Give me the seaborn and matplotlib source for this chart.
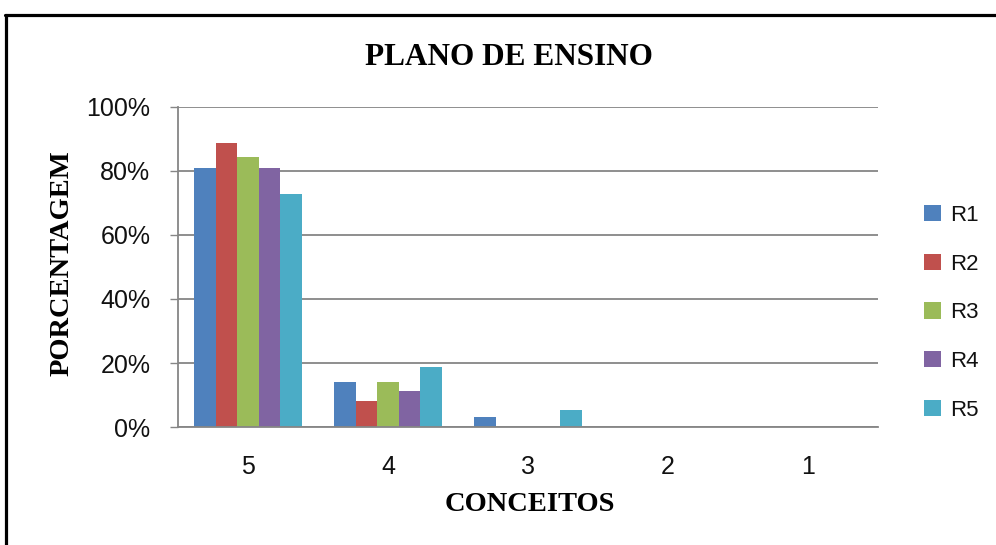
import numpy as np
import pandas as pd
import matplotlib
matplotlib.use("Agg")
import matplotlib.pyplot as plt
from matplotlib.ticker import PercentFormatter
from matplotlib.lines import Line2D
import seaborn as sns

CATEGORIES = ["5", "4", "3", "2", "1"]
SERIES     = ["R1", "R2", "R3", "R4", "R5"]
R1 = [81.0, 14.0, 3.1, 0, 0]
R2 = [88.8, 8.1, 0, 0, 0]
R3 = [84.4, 14.0, 0, 0, 0]
R4 = [81.0, 11.2, 0, 0, 0]
R5 = [72.8, 18.8, 5.3, 0, 0]
COLORS = ["#4F81BD", "#C0504D", "#9BBB59", "#8064A2", "#4BACC6"]

rows = []
for name, vals in zip(SERIES, [R1, R2, R3, R4, R5]):
    for cat, v in zip(CATEGORIES, vals):
        rows.append({"conceito": cat, "serie": name, "valor": v})
df = pd.DataFrame(rows)

sns.set_style("white")
plt.rcParams["font.family"] = ["Liberation Sans", "DejaVu Sans"]
plt.rcParams["text.color"] = "black"

fig = plt.figure(figsize=(9.96, 5.45), dpi=100)
ax = fig.add_axes([0.1787, 0.2165, 0.7028, 0.5872])

sns.barplot(data=df, x="conceito", y="valor", hue="serie", order=CATEGORIES,
            hue_order=SERIES, palette=COLORS, width=0.77, gap=0,
            saturation=1, linewidth=0, ax=ax)

ax.set_ylim(0, 100)
ax.set_yticks([0, 20, 40, 60, 80, 100])
ax.yaxis.set_major_formatter(PercentFormatter(100, decimals=0))
ax.grid(axis="y", color="#868686", linewidth=1.3)
ax.set_axisbelow(True)
for s in ["top", "right"]:
    ax.spines[s].set_visible(False)
for s in ["left", "bottom"]:
    ax.spines[s].set_color("#868686")
    ax.spines[s].set_linewidth(1.3)
ax.tick_params(axis="y", left=True, length=5.8, width=1.0, color="#868686",
               pad=14, labelsize=18, labelcolor="#111111")
ax.tick_params(axis="x", bottom=False, length=0, pad=20, labelsize=18,
               labelcolor="#111111")
ax.set_xlabel("")
ax.set_ylabel("")

handles, labels = ax.get_legend_handles_labels()
ax.legend(handles, labels, loc="center left", bbox_to_anchor=(0.908, 0.426),
          bbox_transform=fig.transFigure, frameon=False, fontsize=16,
          handlelength=0.75, handleheight=0.75, handletextpad=0.4,
          labelspacing=1.25, labelcolor="#111111")

serif = ["Liberation Serif", "DejaVu Serif"]
fig.text(0.511, 0.895, "PLANO DE ENSINO", ha="center", va="center",
         fontsize=22.5, fontweight="bold", family=serif)
fig.text(0.062, 0.517, "PORCENTAGEM", ha="center", va="center", rotation=90,
         fontsize=20.5, fontweight="bold", family=serif)
fig.text(0.532, 0.075, "CONCEITOS", ha="center", va="center",
         fontsize=20.5, fontweight="bold", family=serif)

# moldura do grafico (cortada a direita e embaixo)
fig.add_artist(Line2D([0.005, 1.0], [0.973, 0.973], color="black", linewidth=2.3,
                      transform=fig.transFigure))
fig.add_artist(Line2D([0.006, 0.006], [0.0, 0.973], color="black", linewidth=2.3,
                      transform=fig.transFigure))

plt.savefig("out.png", dpi=100)
